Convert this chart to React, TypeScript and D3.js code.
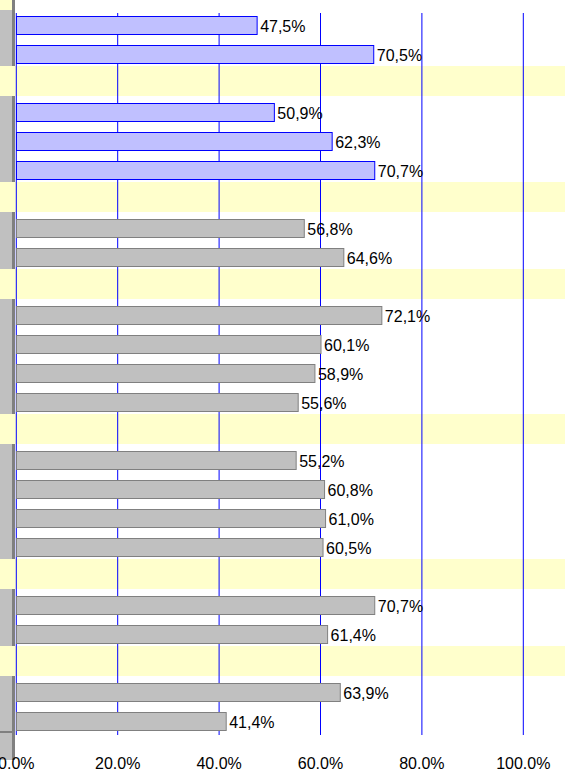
import React from "react";
import * as d3 from "d3";

// Row values (null = separator row)
const rowValues: (number | null)[] = [
  47.5, 70.5, null, 50.9, 62.3, 70.7, null, 56.8, 64.6, null, 72.1, 60.1, 58.9,
  55.6, null, 55.2, 60.8, 61.0, 60.5, null, 70.7, 61.4, null, 63.9, 41.4,
];
// Series per row: "A" blue, "B" gray, "S" separator
const rowSeries: string[] = [
  "A", "A", "S", "A", "A", "A", "S", "B", "B", "S", "B", "B", "B",
  "B", "S", "B", "B", "B", "B", "S", "B", "B", "S", "B", "B",
];
const tickValues = [0, 20, 40, 60, 80, 100];
const tickLabels = ["0.0%", "20.0%", "40.0%", "60.0%", "80.0%", "100.0%"];

const W = 565;
const H = 772;
const FONT = "'Liberation Sans', Arial, sans-serif";

export default function App() {
  const x = d3.scaleLinear().domain([0, 100]).range([16.3, 523.3]);
  const y = d3
    .scaleBand<number>()
    .domain(rowValues.map((_, i) => i))
    .range([11, 736])
    .paddingInner(10 / 29)
    .paddingOuter(5 / 29);
  const bw = y.bandwidth();
  const fmt = d3.format(".1f");

  const colors: Record<string, { fill: string; stroke: string }> = {
    A: { fill: "#c0c0ff", stroke: "#0000ff" },
    B: { fill: "#c0c0c0", stroke: "#808080" },
  };

  return (
    <svg
      width={W}
      height={H}
      style={{ position: "absolute", left: 0, top: 0, background: "#fff" }}
    >
      {/* left strip */}
      <rect x={0} y={0} width={12} height={760} fill="#c0c0c0" />
      <rect x={0} y={0} width={12} height={10} fill="#ffffcc" />
      <rect x={12} y={0} width={3} height={760} fill="#808080" />
      <rect x={0} y={731} width={12} height={2} fill="#808080" />

      {/* separator bands */}
      {rowValues.map((v, i) =>
        rowSeries[i] === "S" ? (
          <rect
            key={"s" + i}
            x={0}
            y={(y(i) as number) - 8}
            width={W}
            height={30}
            fill="#ffffcc"
          />
        ) : null
      )}

      {/* grid lines */}
      {tickValues.map((t) => (
        <line
          key={"g" + t}
          x1={x(t)}
          x2={x(t)}
          y1={13}
          y2={735}
          stroke="#0000ff"
          strokeWidth={1}
        />
      ))}

      {/* bars */}
      {rowValues.map((v, i) => {
        if (v === null) return null;
        const c = colors[rowSeries[i]];
        const y0 = y(i) as number;
        return (
          <g key={"b" + i}>
            <rect
              x={x(0) + 0.2}
              y={y0 + 0.5}
              width={x(v) - x(0) - 0.2}
              height={bw - 1}
              fill={c.fill}
              stroke={c.stroke}
              strokeWidth={1}
            />
            <text
              x={x(v) + 3}
              y={y0 + bw / 2 + 1}
              dy="0.36em"
              fontFamily={FONT}
              fontSize={16}
              fill="#000"
            >
              {fmt(v).replace(".", ",") + "%"}
            </text>
          </g>
        );
      })}

      {/* axis labels */}
      {tickValues.map((t, i) => (
        <text
          key={"t" + t}
          x={x(t)}
          y={769}
          textAnchor="middle"
          fontFamily={FONT}
          fontSize={16}
          fill="#000"
        >
          {tickLabels[i]}
        </text>
      ))}
    </svg>
  );
}
